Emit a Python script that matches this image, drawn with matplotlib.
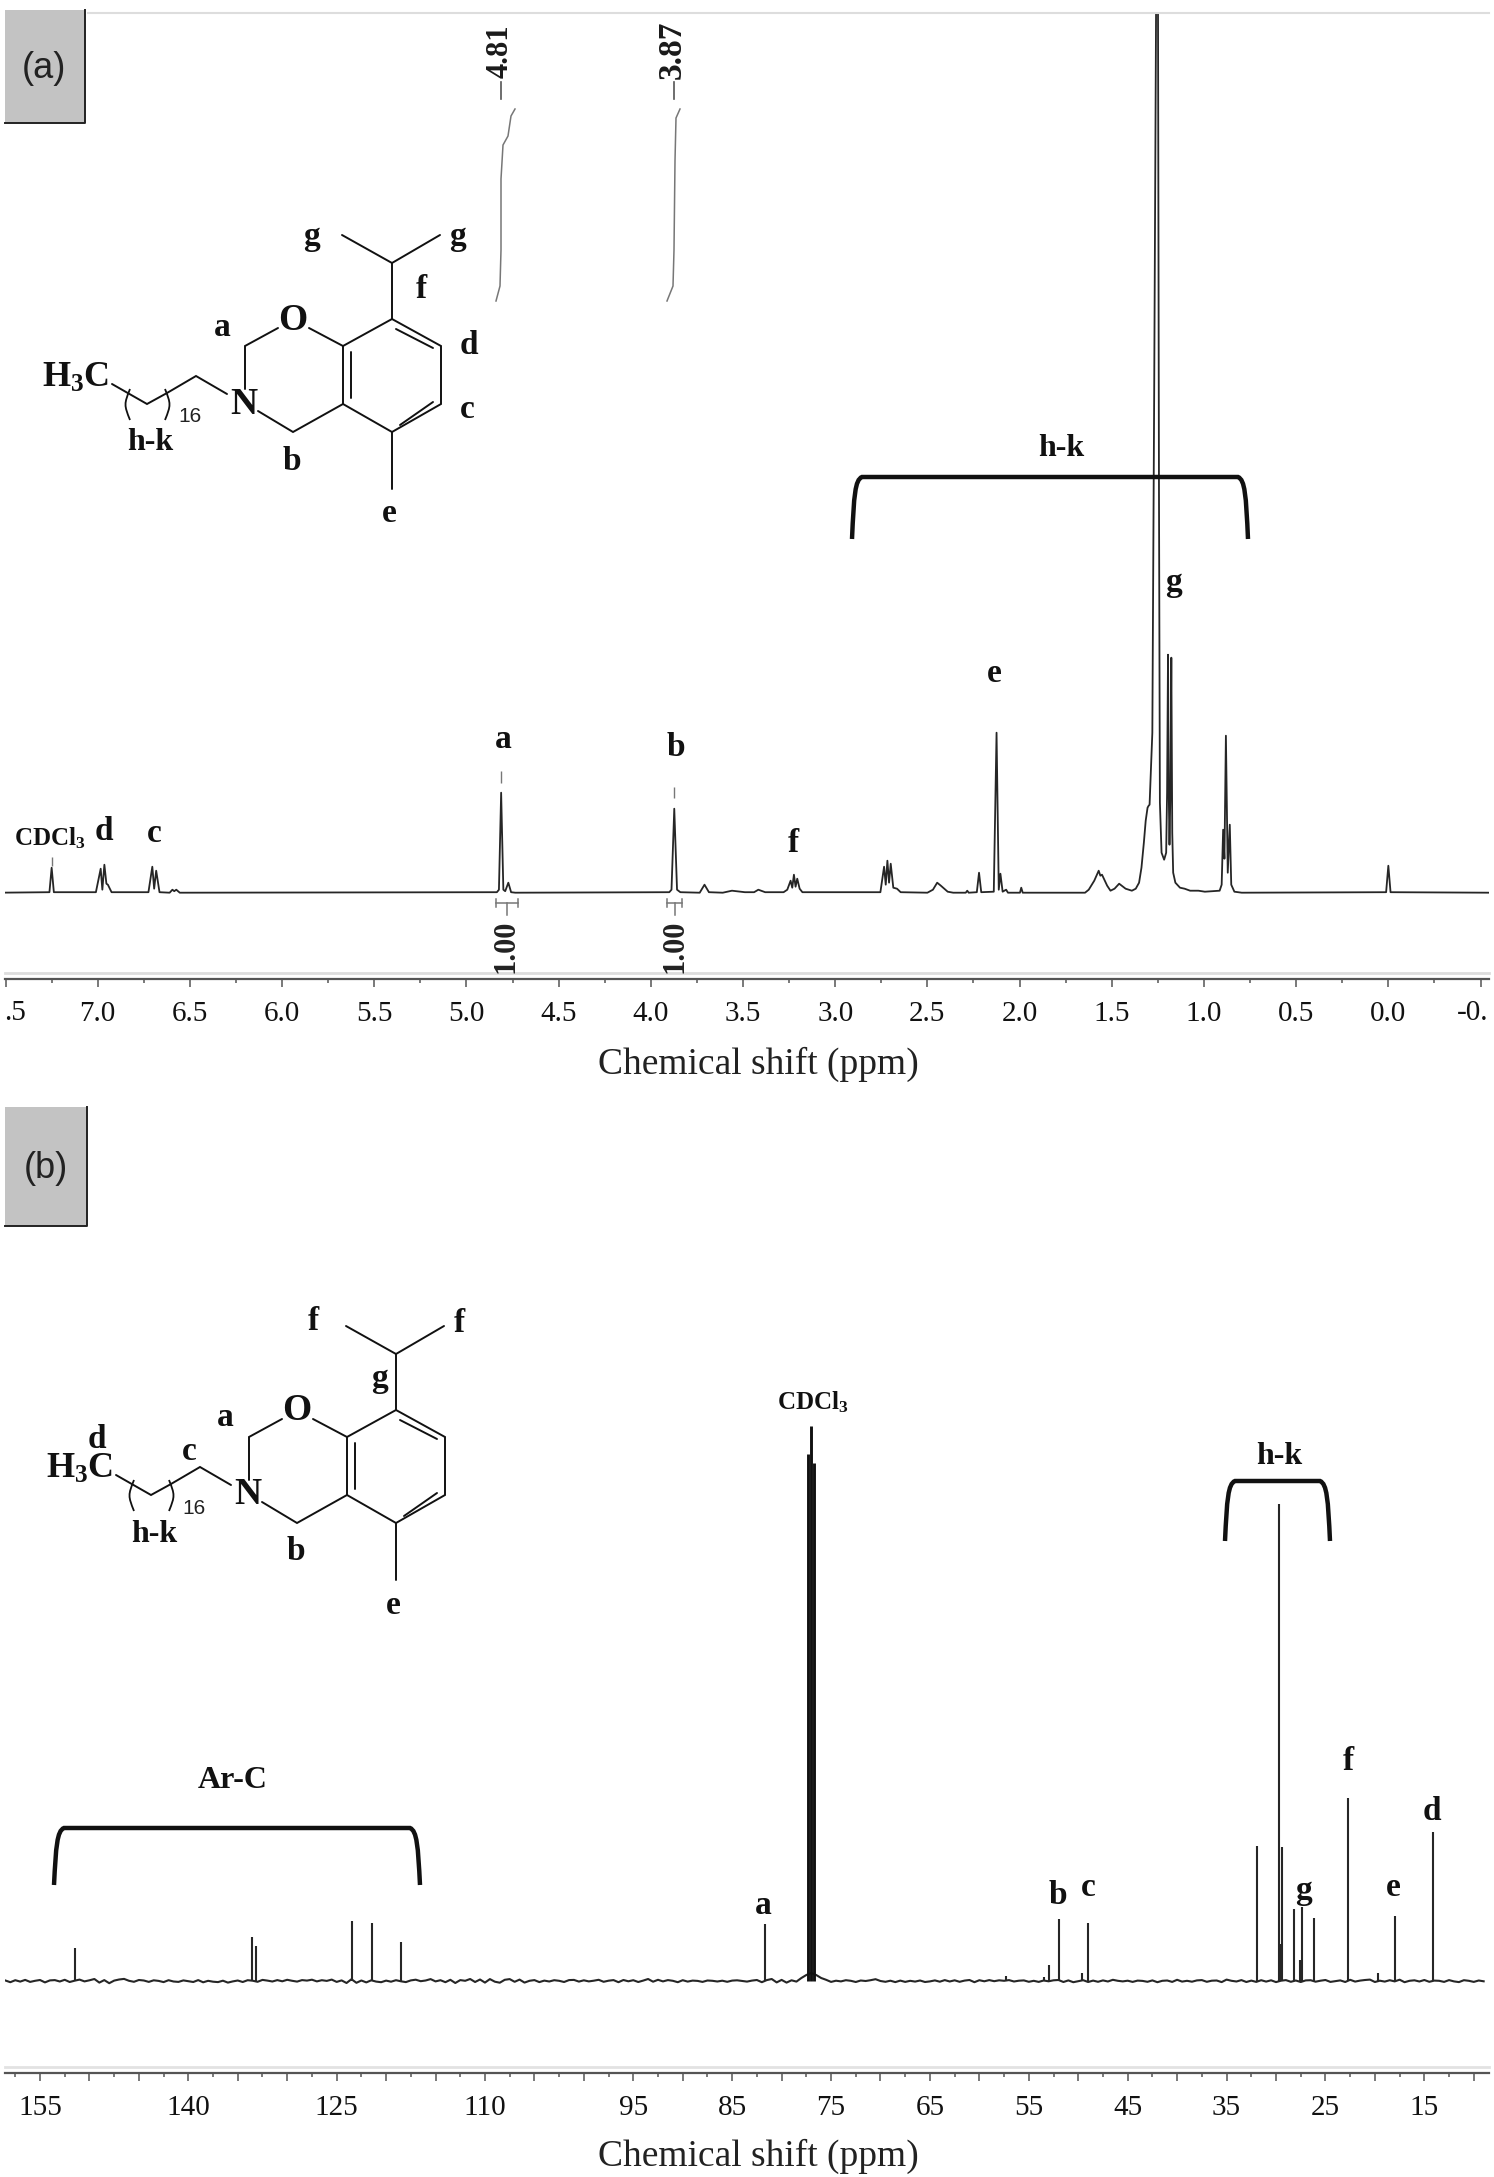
#!/usr/bin/env python

import matplotlib
matplotlib.use('Agg')
import matplotlib.pyplot as plt
from matplotlib.patches import PathPatch, Rectangle
from matplotlib.path import Path
import numpy as np

plt.rcParams['font.family'] = ['Liberation Serif', 'DejaVu Serif']
plt.rcParams['mathtext.fontset'] = 'custom'
plt.rcParams['mathtext.rm'] = 'Liberation Serif'
plt.rcParams['mathtext.bf'] = 'Liberation Serif:bold'

W, H = 1494, 2177
INK = '#262626'

# 1H spectrum (intensity in px above baseline)
h_shift = [7.54, 7.262, 7.25, 7.238, 7.01, 6.984, 6.975, 6.964, 6.953, 6.945, 6.925,
           6.725, 6.704, 6.694, 6.683, 6.665, 6.61, 6.595, 6.585, 6.574, 6.555,
           4.835, 4.824, 4.812, 4.80, 4.79, 4.773, 4.758, 4.735,
           3.90, 3.888, 3.873, 3.858, 3.84, 3.735, 3.709, 3.685, 3.61, 3.56, 3.49, 3.44, 3.417, 3.38,
           3.28, 3.26, 3.242, 3.233, 3.224, 3.215, 3.206, 3.193, 3.178,
           2.755, 2.735, 2.726, 2.717, 2.708, 2.699, 2.685, 2.665, 2.645,
           2.50, 2.47, 2.447, 2.427, 2.39, 2.36, 2.292, 2.284, 2.276, 2.232, 2.22, 2.208,
           2.14, 2.125, 2.113, 2.104, 2.092, 2.073, 2.063, 1.998, 1.991, 1.983,
           1.645, 1.625, 1.595, 1.571, 1.562, 1.553, 1.525, 1.507, 1.485, 1.46, 1.425, 1.391,
           1.37, 1.352, 1.339, 1.326, 1.316, 1.306, 1.30, 1.295, 1.28, 1.27, 1.258, 1.25, 1.244,
           1.239, 1.23, 1.216, 1.205, 1.20, 1.195, 1.191, 1.187, 1.182, 1.177, 1.172, 1.167, 1.155,
           1.13, 1.105, 1.075, 1.03, 0.995, 0.915, 0.904, 0.896, 0.889, 0.881, 0.871, 0.86, 0.852,
           0.835, 0.795, 0.012, 0.0, -0.012, -0.55]
h_intensity = [0, 0.5, 25, 0.5, 0.5, 24, 3, 28, 9, 8, 0.5,
               0.5, 26, 4, 22, 0.5, 0, 3, 1.5, 3, 0,
               0.5, 3, 100, 3, 1.5, 10, 0.5, 0,
               0.5, 3, 84, 3, 0.5, 0, 8, 0.5, 0, 2, 0.5, 0.5, 3, 0.5,
               0.5, 3, 12, 5, 18, 6, 14, 4, 0.5,
               0.5, 26, 8, 32, 10, 29, 5, 4, 0.5,
               0, 3, 10, 7, 1, 0, 0, 2, 0, 0.5, 20, 0.5,
               1, 160, 3, 19, 1, 3, 0, 0, 5, 0,
               0, 3, 12, 22, 17, 18, 7, 2, 4, 9, 4, 2,
               4, 10, 25, 50, 72, 85, 87, 88, 160, 500, 950, 950, 400,
               90, 40, 33, 40, 100, 238, 100, 48, 100, 235, 60, 20, 10,
               5, 4, 2, 2, 1, 2, 8, 63, 34, 157, 20, 68, 8,
               1, 0, 0.5, 27, 0.5, 0]
h_ticks = [7.5, 7.0, 6.5, 6.0, 5.5, 5.0, 4.5, 4.0, 3.5, 3.0, 2.5, 2.0, 1.5, 1.0, 0.5, 0.0, -0.5]
h_ticklabels = ['', '7.0', '6.5', '6.0', '5.5', '5.0', '4.5', '4.0', '3.5', '3.0', '2.5',
                '2.0', '1.5', '1.0', '0.5', '0.0', '']
h_minor = [7.25, 6.75, 6.25, 5.75, 5.25, 4.75, 4.25, 3.75, 3.25, 2.75, 2.25, 1.75, 1.25, 0.75, 0.25, -0.25]
h_marker_shift = [7.25, 4.812, 3.873]
h_marker_low = [27, 110, 95]
h_marker_high = [36, 122, 106]
h_integral_shift = [4.81, 3.87]

# 13C spectrum, peaks and baseline noise
c_peak_shift = [151.46, 133.6, 133.2, 123.4, 121.4, 118.45, 81.7, 57.3, 53.5, 52.93,
                51.97, 49.66, 49.04, 31.95, 29.69, 29.6, 29.4, 28.2, 27.53, 27.34, 26.14, 22.73, 19.7, 18.0, 14.09]
c_peak_height = [33, 44, 35, 60, 58, 39, 57, 5, 4, 16,
                 62, 8, 58, 135, 477, 37, 134, 72, 21, 74, 63, 183, 8, 65, 149]
cdcl3_shift = [77.3, 77.05, 76.75]
cdcl3_height = [527, 555, 518]
c_base_start = 158.5
c_base_step = 0.5
c_base = [
    0.5, -1.2, 0.8, -0.6, 1.1, -0.9, 0.2, 1.0, -1.4, 0.6, 0.9, -0.5, 1.2, -1.0, 0.3, 1.4, -0.4, 0.7, 2.0, -1.6,
    0.9, -2.2, 0.4, 1.5, 2.1, 0.2, -0.8, 1.0, 0.5, -0.9, 0.7, 0.1, -1.1, 0.8, -0.5, -0.9, 0.6, -0.2, -1.0, 0.9,
    -1.3, 0.2, -0.7, -1.1, 0.3, -1.6, -0.4, 0.5, -1.0, 0.8, 0.3, -0.8, 1.1, 0.4, -0.5, 0.9, -0.3, 1.2, 0.2, -0.6,
    0.9, 0.4, 1.3, -0.4, 0.8, 0.1, 1.4, -0.9, 0.6, -2.0, 1.8, -1.8, 0.5, -1.4, 0.7, -0.6, -1.2, 0.4, -0.7, 0.8,
    -0.3, -1.1, 0.6, 1.3, -0.2, 0.5, 1.9, -0.4, 0.8, -1.2, 1.2, -2.0, 0.9, 0.2, 2.0, -1.0, 1.5, -1.6, 1.9, -0.7,
    -1.7, 1.2, 1.9, -0.8, 1.4, -1.6, 0.2, 0.9, -1.1, 0.4, -0.5, 0.8, 0.2, -1.0, 0.9, 1.1, -0.6, 0.7, -0.4, 0.3,
    1.2, -0.8, 0.3, 0.9, -1.2, 1.0, -0.3, 0.8, -1.0, 0.4, 2.0, -0.7, 1.2, -0.4, 0.9, 0.2, -1.2, 0.8, -0.6, 0.4,
    0.1, -0.9, 0.5, 0.2, -0.5, 0.3, -0.8, 0.4, 0.7, 0.1, -0.6, 0.4, 1.0, -1.2, 0.9, 2.0, -1.4, 1.1, -1.6, 0.7,
    -0.6, 3.0, 6.0, 8.0, 6.0, 3.0, 1.2, -0.9, 0.3, -0.4, 0.8, 0.2, -1.0, 0.5, 0.0, 0.8, 1.8, 0.0, -0.8, 0.3,
    -1.1, 0.4, -0.9, 0.2, -0.6, 0.5, -1.0, -0.4, 0.6, -0.7, 0.9, -0.5, 0.7, -0.8, 0.4, 1.0, -1.2, 0.8, -0.3, 0.9,
    -0.2, 0.7, 0.2, 0.9, -0.5, 0.3, 0.6, -0.8, 0.2, -0.9, 0.5, -0.3, 0.7, 1.0, -1.0, 0.6, -1.2, -0.2, 0.8, -1.0,
    0.4, -0.8, 0.6, -0.5, 1.2, 0.2, -0.4, 0.3, -0.9, 0.4, 0.1, -0.8, 0.6, -1.2, 0.2, 0.5, -0.9, 1.2, -0.6, 0.2,
    -0.7, 0.6, 0.9, -0.8, 0.3, 0.5, -1.1, 1.4, 0.2, -0.5, 0.9, -1.0, 0.4, -0.9, 0.8, -0.6, 0.7, -1.1, 0.3, 0.9,
    -0.8, 0.5, -1.0, 0.6, 0.8, -0.7, 0.3, 1.0, -0.9, -0.2, 0.6, -1.0, 1.2, -0.6, 0.4, 1.0, 1.4, -1.0, 0.3, -0.6,
    0.8, -0.4, 1.3, -1.2, 0.2, 0.7, -0.5, 1.0, -0.8, 0.4, 0.2, -0.9, 0.9, -0.4, -1.1, 0.8, 0.2, -0.9, 0.5, -0.3]
c_ticks = [155, 140, 125, 110, 95, 85, 75, 65, 55, 45, 35, 25, 15]


def px_axes(fig, x0, x1, ytop, ybot):
    return fig.add_axes([x0 / W, 1 - ybot / H, (x1 - x0) / W, (ybot - ytop) / H])


def style_axes(ax, ticks, labels):
    for s in ['top', 'left', 'right']:
        ax.spines[s].set_visible(False)
    ax.spines['bottom'].set_color('#555555')
    ax.spines['bottom'].set_linewidth(1.6)
    ax.set_yticks([])
    ax.patch.set_alpha(0)
    ax.set_xticks(ticks)
    ax.set_xticklabels(labels, fontsize=21, color='#111111')
    ax.tick_params(axis='x', which='major', length=6, width=1.1, color='#555555', pad=10)
    ax.tick_params(axis='x', which='minor', length=3, width=1.1, color='#555555')


def bracket(ov, x0, x1, ytop, ybot):
    verts = [(x0, ybot), (x0 + 2, ytop + 18), (x0 + 3, ytop + 3), (x0 + 10, ytop),
             (x1 - 10, ytop), (x1 - 3, ytop + 3), (x1 - 2, ytop + 18), (x1, ybot)]
    codes = [Path.MOVETO, Path.CURVE4, Path.CURVE4, Path.CURVE4,
             Path.LINETO, Path.CURVE4, Path.CURVE4, Path.CURVE4]
    ov.add_patch(PathPatch(Path(verts, codes), fill=False, lw=3.2, ec='#111111', capstyle='butt'))


def label(ov, x, y, s, size=24, weight='bold', **kw):
    ov.text(x, y, s, fontsize=size, fontweight=weight, ha='center', va='center', color='#111111', **kw)


# bonds of the benzoxazine drawing, in px of panel (a)
bonds = [[(392, 319), (441, 346), (441, 404), (392, 432), (343, 404), (343, 346), (392, 319)],
         [(392, 319), (392, 263), (342, 235)], [(392, 263), (440, 235)],
         [(392, 432), (392, 489)],
         [(396, 329), (433, 348)], [(351, 352), (351, 398)], [(400, 425), (433, 402)],
         [(343, 346), (309, 328)], [(278, 328), (245, 346), (245, 389)],
         [(258, 411), (293, 432), (343, 404)],
         [(227, 394), (196, 376), (167, 393), (147, 404), (112, 384)]]
parens = [[(130, 389), (124, 404), (124, 405), (130, 420)], [(165, 389), (171, 404), (171, 405), (165, 420)]]


def molecule(ov, dx, dy):
    for b in bonds:
        xs = [p[0] + dx for p in b]
        ys = [p[1] + dy for p in b]
        ov.plot(xs, ys, color='#111111', lw=1.4, solid_capstyle='round', solid_joinstyle='miter')
    for p in parens:
        verts = [(q[0] + dx, q[1] + dy) for q in p]
        ov.add_patch(PathPatch(Path(verts, [Path.MOVETO, Path.CURVE4, Path.CURVE4, Path.CURVE4]),
                               fill=False, lw=1.3, ec='#111111'))
    label(ov, 293 + dx, 320 + dy, 'O', size=27)
    label(ov, 244 + dx, 404 + dy, 'N', size=27)
    label(ov, 76 + dx, 378 + dy, r'$\mathbf{H_3C}$', size=26)
    ov.text(190 + dx, 417 + dy, '16', fontsize=15, family='Liberation Sans', ha='center', va='center', color='#222222')
    label(ov, 150 + dx, 443 + dy, 'h-k', size=23)


fig = plt.figure(figsize=(W / 100, H / 100), dpi=100)

# panel (a), 1H
ax1 = px_axes(fig, 5, 1489, 13, 979)
ax1.set_xlim(7.503, -0.546)
ax1.set_ylim(-86.3, 879.7)
style_axes(ax1, h_ticks, h_ticklabels)
ax1.set_xticks(h_minor, minor=True)
ax1.plot(h_shift, h_intensity, color=INK, lw=1.3)
ax1.vlines(h_marker_shift, h_marker_low, h_marker_high, color='#777777', lw=1.0)

# panel (b), 13C, every 5 ppm gets a tick but only some a label
major = np.arange(155, 9, -5)
ax2 = px_axes(fig, 5, 1489, 1107, 2073)
ax2.set_xlim(158.54, 8.46)
ax2.set_ylim(-92, 874)
style_axes(ax2, major, [str(v) if v in c_ticks else '' for v in major])
ax2.set_xticks(np.arange(157.5, 9, -5), minor=True)
c_shift = c_base_start - c_base_step * np.arange(len(c_base))
ax2.plot(c_shift, c_base, color=INK, lw=1.5)
ax2.vlines(c_peak_shift, 0, c_peak_height, color=INK, lw=1.5)
ax2.vlines(cdcl3_shift, 0, cdcl3_height, color='#111111', lw=2.1)

# everything that is not data sits on a px overlay
ov = fig.add_axes([0, 0, 1, 1], zorder=5)
ov.set_xlim(0, W)
ov.set_ylim(H, 0)
ov.axis('off')

for (x0, x1, y0, y1, s, tx, ty) in [(5, 85, 10, 123, '(a)', 44, 69), (5, 87, 1107, 1226, '(b)', 46, 1169)]:
    ov.add_patch(Rectangle((x0, y0), x1 - x0, y1 - y0, fc='#c3c3c3', ec='none'))
    ov.plot([x1, x1, x0], [y0, y1, y1], color='#222222', lw=1.4)
    ov.text(tx, ty, s, fontsize=26, family='Liberation Sans', ha='center', va='center', color='#222222')

ov.plot([88, 1489], [13, 13], color='#dddddd', lw=1.5)
ov.plot([5, 1489], [973, 973], color='#dddddd', lw=2)
ov.plot([5, 1489], [2067, 2067], color='#e2e2e2', lw=2)

# the two end labels of the 1H axis are cut in the original
ov.text(4, 1013, '.5', fontsize=21, ha='left', va='center', color='#111111')
ov.text(1488, 1013, '-0.', fontsize=21, ha='right', va='center', color='#111111')

# peak picks and integrals above panel (a)
for sft, x, y, dash_x, size in zip(h_integral_shift, [500, 672], [51.5, 50], [500.7, 674], [22, 24]):
    ov.text(x, y, '%.2f' % sft, fontsize=size, fontweight='bold', rotation=90, ha='center', va='center', color='#1a1a1a')
    ov.plot([dash_x, dash_x], [82, 99], color='#555555', lw=1.2)
ov.plot([515, 511, 508, 503, 501, 501, 500, 496], [109, 116, 136, 145, 179, 250, 286, 301], color='#777777', lw=1.1)
ov.plot([680, 676, 675, 674, 673, 667], [109, 118, 161, 250, 286, 301], color='#777777', lw=1.1)
for x0, x1, xm, xt in [(496, 518, 507, 506), (667, 682, 675, 675)]:
    ov.plot([x0, x1], [903, 903], color='#777777', lw=1.1)
    ov.plot([x0, x0], [899, 907], color='#777777', lw=1.1)
    ov.plot([x1, x1], [899, 907], color='#777777', lw=1.1)
    ov.plot([xm, xm], [903, 915], color='#777777', lw=1.1)
    ov.text(xt, 946, '1.00', fontsize=22, fontweight='bold', rotation=90, ha='center', va='center', color='#222222')

molecule(ov, 0, 0)
molecule(ov, 4, 1091)

for x, y, s in [(222, 327, 'a'), (292, 461, 'b'), (467, 409, 'c'), (469, 345, 'd'), (389, 514, 'e'),
                (421, 290, 'f'), (312, 236, 'g'), (457, 236, 'g'),
                (503, 739, 'a'), (676, 748, 'b'), (154, 833, 'c'), (104, 831, 'd'), (994, 673, 'e'),
                (793, 843, 'f'), (1174, 583, 'g'),
                (225, 1417, 'a'), (296, 1552, 'b'), (189, 1452, 'c'), (97, 1440, 'd'), (393, 1606, 'e'),
                (313, 1322, 'f'), (459, 1323, 'f'), (379, 1378, 'g'),
                (763, 1905, 'a'), (1058, 1896, 'b'), (1088, 1888, 'c'), (1303, 1890, 'g'), (1393, 1887, 'e'),
                (1432, 1812, 'd'), (1348, 1761, 'f')]:
    label(ov, x, y, s)

label(ov, 50, 838, r'$\mathbf{CDCl_3}$', size=18)
label(ov, 813, 1402, r'$\mathbf{CDCl_3}$', size=18)
label(ov, 1061, 448, 'h-k', size=23)
label(ov, 1279, 1457, 'h-k', size=23)
label(ov, 233, 1781, 'Ar-C', size=23)
bracket(ov, 852, 1248, 477, 539)
bracket(ov, 54, 420, 1828, 1885)
bracket(ov, 1225, 1330, 1481, 1541)

ov.text(758, 1064, 'Chemical shift (ppm)', fontsize=27, ha='center', va='center', color='#222222')
ov.text(758, 2156, 'Chemical shift (ppm)', fontsize=27, ha='center', va='center', color='#222222')

fig.savefig('out.png', dpi=100)
